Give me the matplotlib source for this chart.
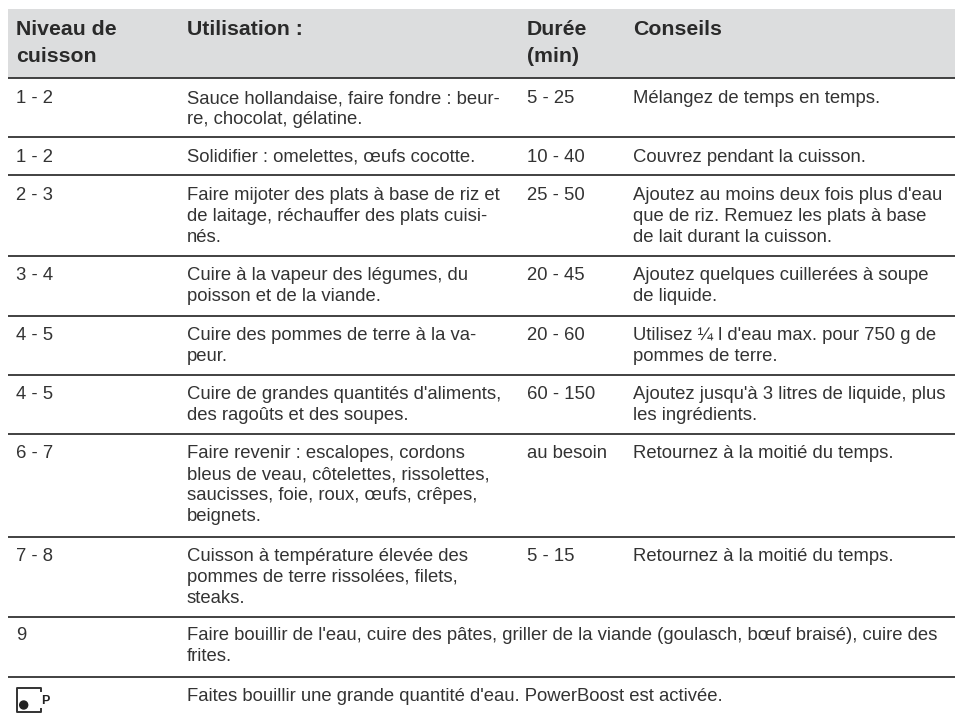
import matplotlib
matplotlib.use('Agg')
import matplotlib.pyplot as plt
from matplotlib.patches import Rectangle, Circle

plt.rcParams['font.family'] = ['Liberation Sans', 'DejaVu Sans']

headers = ['Niveau de\ncuisson', 'Utilisation :', 'Durée\n(min)', 'Conseils']

levels = ['1 - 2', '1 - 2', '2 - 3', '3 - 4', '4 - 5', '4 - 5', '6 - 7', '7 - 8', '9', '']

uses = [
    'Sauce hollandaise, faire fondre : beur-\nre, chocolat, gélatine.',
    'Solidifier : omelettes, œufs cocotte.',
    'Faire mijoter des plats à base de riz et\nde laitage, réchauffer des plats cuisi-\nnés.',
    'Cuire à la vapeur des légumes, du\npoisson et de la viande.',
    'Cuire des pommes de terre à la va-\npeur.',
    "Cuire de grandes quantités d'aliments,\ndes ragoûts et des soupes.",
    'Faire revenir : escalopes, cordons\nbleus de veau, côtelettes, rissolettes,\nsaucisses, foie, roux, œufs, crêpes,\nbeignets.',
    'Cuisson à température élevée des\npommes de terre rissolées, filets,\nsteaks.',
    "Faire bouillir de l'eau, cuire des pâtes, griller de la viande (goulasch, bœuf braisé), cuire des\nfrites.",
    "Faites bouillir une grande quantité d'eau. PowerBoost est activée.",
]

durations = ['5 - 25', '10 - 40', '25 - 50', '20 - 45', '20 - 60', '60 - 150', 'au besoin', '5 - 15', '', '']

tips = [
    'Mélangez de temps en temps.',
    'Couvrez pendant la cuisson.',
    "Ajoutez au moins deux fois plus d'eau\nque de riz. Remuez les plats à base\nde lait durant la cuisson.",
    'Ajoutez quelques cuillerées à soupe\nde liquide.',
    "Utilisez ¼ l d'eau max. pour 750 g de\npommes de terre.",
    "Ajoutez jusqu'à 3 litres de liquide, plus\nles ingrédients.",
    'Retournez à la moitié du temps.',
    'Retournez à la moitié du temps.',
    '',
    '',
]

col_x = [16, 187, 527, 633]
rule_y = [78, 137, 175, 256, 316, 375, 434, 537, 617, 677]
row_base = [103, 162, 200, 280, 340, 399, 458, 561, 640, 701]
body_col = '#333333'


def draw_lines(ax, x, y, s, step, **kw):
    # one text per line so baselines stay fixed whatever the glyphs are
    for j, line in enumerate(s.split('\n')):
        ax.text(x, y + j*step, line, va='baseline', **kw)


fig = plt.figure(figsize=(9.55, 7.21), dpi=100)
ax = fig.add_axes([0, 0, 1, 1])
ax.set_xlim(0, 955)
ax.set_ylim(721, 0)
ax.axis('off')

# header band
ax.add_patch(Rectangle((8, 9), 947, 69, facecolor='#dcddde', edgecolor='none'))
for x, h in zip(col_x, headers):
    draw_lines(ax, x, 35, h, 27, fontsize=15.3, fontweight='bold', color='#2a2a2a')

for y in rule_y:
    ax.plot([8, 955], [y, y], color='#333333', lw=1.3, solid_capstyle='butt')

# rows
for i, (lvl, use, dur, tip) in enumerate(zip(levels, uses, durations, tips)):
    for x, s in zip(col_x, [lvl, use, dur, tip]):
        draw_lines(ax, x, row_base[i], s, 21, fontsize=13.3, color=body_col)

# PowerBoost icon
ax.plot([41, 41, 17, 17, 41, 41], [691, 688, 688, 712, 712, 709], color='#333333', lw=1.4,
        solid_joinstyle='round')
ax.add_patch(Circle((23.7, 705), 4, color='#222222'))
ax.text(41, 704, 'P', fontsize=9, fontweight='bold', color='#222222', va='baseline')

fig.savefig('out.png', dpi=100)
